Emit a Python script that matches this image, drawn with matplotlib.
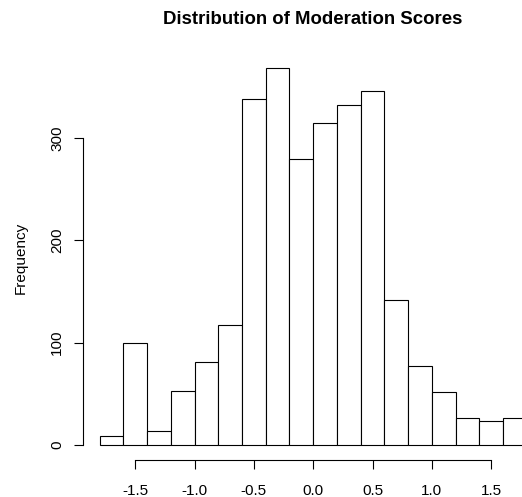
import matplotlib
matplotlib.use("Agg")
import matplotlib.pyplot as plt

plt.rcParams['font.family'] = ['Liberation Sans', 'DejaVu Sans']

# Histogram bins (edges) and counts per bin
bin_edges = [-1.8, -1.6, -1.4, -1.2, -1.0, -0.8, -0.6, -0.4, -0.2, 0.0,
             0.2, 0.4, 0.6, 0.8, 1.0, 1.2, 1.4, 1.6, 1.8]
counts = [9, 100, 13, 53, 81, 117, 339, 369, 280, 315,
          333, 346, 142, 77, 52, 26, 23, 26]
x_ticks = [-1.5, -1.0, -0.5, 0.0, 0.5, 1.0, 1.5]
x_tick_labels = ['-1.5', '-1.0', '-0.5', '0.0', '0.5', '1.0', '1.5']
y_ticks = [0, 100, 200, 300]

W, H = 522, 497
fig = plt.figure(figsize=(W / 100, H / 100), dpi=100)

left, right = 82.5, 543.9
top, bottom = 52.8, 459.8
ax = fig.add_axes([left / W, 1 - bottom / H, (right - left) / W, (bottom - top) / H])

widths = [b - a for a, b in zip(bin_edges[:-1], bin_edges[1:])]
ax.bar(bin_edges[:-1], counts, width=widths, align='edge',
       facecolor='white', edgecolor='black', linewidth=0.8)

# R-style axis limits: data range padded by 4%
xr = bin_edges[-1] - bin_edges[0]
ax.set_xlim(bin_edges[0] - 0.04 * xr, bin_edges[-1] + 0.04 * xr)
ymax = max(counts)
ax.set_ylim(-0.04 * ymax, ymax * 1.04)

for s in ('top', 'right'):
    ax.spines[s].set_visible(False)
ax.spines['left'].set_bounds(y_ticks[0], y_ticks[-1])
ax.spines['bottom'].set_bounds(x_ticks[0], x_ticks[-1])
for s in ('left', 'bottom'):
    ax.spines[s].set_linewidth(0.8)

ax.set_xticks(x_ticks)
ax.set_xticklabels(x_tick_labels)
ax.set_yticks(y_ticks)
ax.set_yticklabels([str(v) for v in y_ticks], rotation=90, va='center')
ax.tick_params(axis='both', length=6.7, width=0.8, labelsize=11, direction='out')
ax.tick_params(axis='x', pad=10.5)
ax.tick_params(axis='y', pad=6.5)

fig.text(20.8 / W, 1 - 258 / H, 'Frequency', rotation=90, ha='center', va='center',
         fontsize=11)
fig.text(313 / W, 1 - 19.5 / H, 'Distribution of Moderation Scores',
         ha='center', va='center', fontsize=13.4, fontweight='bold')

fig.savefig('out.png', dpi=100)
